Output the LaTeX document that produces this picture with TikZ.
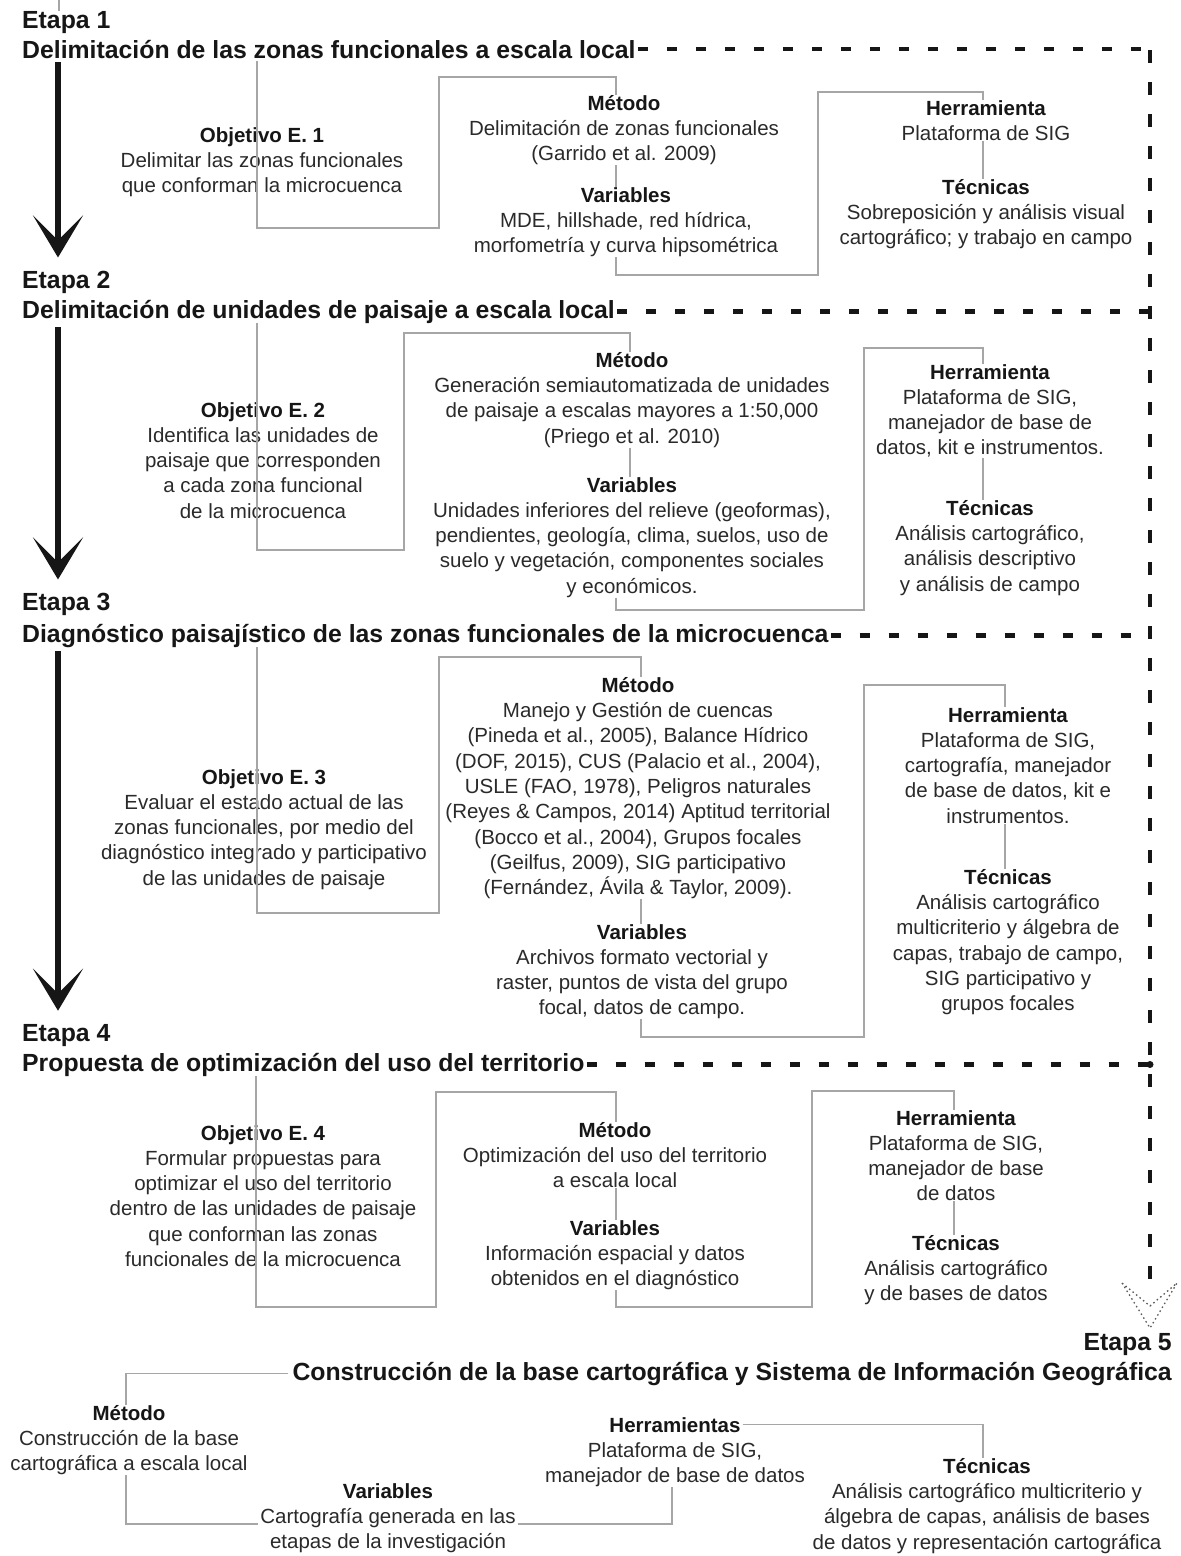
\documentclass[tikz,border=0pt]{standalone}
\usepackage{fontspec}
\setmainfont{Liberation Sans}
\usetikzlibrary{arrows.meta}
\definecolor{txt}{HTML}{2A2A2A}
\definecolor{hdc}{HTML}{161616}
\definecolor{lnc}{HTML}{A6A6A6}
\newcommand{\bodyfont}{\fontsize{20.5pt}{25.3pt}\selectfont}
\newcommand{\titlefont}{\fontsize{24.8pt}{30pt}\selectfont\bfseries}
\newcommand{\blkhead}[1]{{\bfseries\color{hdc}#1}}
\begin{document}
\begin{tikzpicture}[x=1pt,y=-1pt,
  blk/.style={align=center, inner sep=0pt, anchor=north, font=\bodyfont, text=txt},
  etapa/.style={anchor=base west, inner sep=0pt, font=\titlefont, text=hdc},
  titl/.style={anchor=base west, inner sep=0pt, font=\titlefont, text=hdc},
  conn/.style={draw=lnc, line width=1.5pt},
  hdash/.style={draw=hdc, line width=4.5pt, dash pattern=on 10pt off 19pt},
  vdash/.style={draw=hdc, line width=4.5pt, dash pattern=on 13pt off 19pt},
  bigarrow/.style={draw=hdc, line width=6pt, -{Stealth[length=42pt,width=50pt,inset=25pt]}, shorten >=13pt, shorten <=4pt}
]
\fill[white] (0,0) rectangle (1181,1556);
\useasboundingbox (0,0) rectangle (1181,1556);

% helper x positions
\coordinate (X58) at (58,0);
\coordinate (X59) at (59,0);
\coordinate (X126) at (126,0);
\coordinate (X256) at (256,0);
\coordinate (X257) at (257,0);
\coordinate (X616) at (616,0);
\coordinate (X630) at (630,0);
\coordinate (X641) at (641,0);
\coordinate (X672) at (672,0);
\coordinate (X954) at (954,0);
\coordinate (X983) at (983,0);
\coordinate (X1005) at (1005,0);
\coordinate (Y1523) at (0,1524);
\coordinate (vtop) at (1150,50);
\coordinate (vbot) at (1150,1290);
\coordinate (topmark) at (59,0);

% ---------------- Etapa 1
\node[etapa] (et1) at (22,28) {Etapa 1};
\node[titl] (ti1) at (22,58) {Delimitación de las zonas funcionales a escala local};
\node[blk] (obj1) at (262,127) {\blkhead{Objetivo E. 1}\\Delimitar las zonas funcionales\\que conforman la microcuenca};
\node[blk] (met1) at (624,95) {\blkhead{Método}\\Delimitación de zonas funcionales\\(Garrido et al. 2009)};
\node[blk] (var1) at (626,187) {\blkhead{Variables}\\MDE, hillshade, red hídrica,\\morfometría y curva hipsométrica};
\node[blk] (her1) at (986,100) {\blkhead{Herramienta}\\Plataforma de SIG};
\node[blk] (tec1) at (986,179) {\blkhead{Técnicas}\\Sobreposición y análisis visual\\cartográfico; y trabajo en campo};

\draw[conn] (topmark) -- (et1.north -| X59);
\draw[conn, shorten <=3pt] (ti1.south -| X257) |- (439,228) |- (616,77) -- (met1.north -| X616);
\draw[conn] (met1.south -| X616) -- (var1.north -| X616);
\draw[conn] (var1.south -| X616) |- (818,275) |- (983,92) -- (her1.north -| X983);
\draw[conn] (her1.south -| X983) -- (tec1.north -| X983);

% ---------------- Etapa 2
\node[etapa] (et2) at (22,288) {Etapa 2};
\node[titl] (ti2) at (22,318) {Delimitación de unidades de paisaje a escala local};
\node[blk] (obj2) at (263,402) {\blkhead{Objetivo E. 2}\\Identifica las unidades de\\paisaje que corresponden\\a cada zona funcional\\de la microcuenca};
\node[blk] (met2) at (632,352) {\blkhead{Método}\\Generación semiautomatizada de unidades\\de paisaje a escalas mayores a 1:50,000\\(Priego et al. 2010)};
\node[blk] (var2) at (632,477) {\blkhead{Variables}\\Unidades inferiores del relieve (geoformas),\\pendientes, geología, clima, suelos, uso de\\suelo y vegetación, componentes sociales\\y económicos.};
\node[blk] (her2) at (990,364) {\blkhead{Herramienta}\\Plataforma de SIG,\\manejador de base de\\datos, kit e instrumentos.};
\node[blk] (tec2) at (990,500) {\blkhead{Técnicas}\\Análisis cartográfico,\\análisis descriptivo\\y análisis de campo};

\draw[conn] (ti2.south -| X257) |- (404,550) |- (630,333) -- (met2.north -| X630);
\draw[conn] (met2.south -| X630) -- (var2.north -| X630);
\draw[conn] (var2.south -| X616) |- (864,610) |- (983,348) -- (her2.north -| X983);
\draw[conn] (her2.south -| X983) -- (tec2.north -| X983);

% ---------------- Etapa 3
\node[etapa] (et3) at (22,610) {Etapa 3};
\node[titl] (ti3) at (22,642) {Diagnóstico paisajístico de las zonas funcionales de la microcuenca};
\node[blk] (obj3) at (264,769) {\blkhead{Objetivo E. 3}\\Evaluar el estado actual de las\\zonas funcionales, por medio del\\diagnóstico integrado y participativo\\de las unidades de paisaje};
\node[blk] (met3) at (638,677) {\blkhead{Método}\\Manejo y Gestión de cuencas\\(Pineda et al., 2005), Balance Hídrico\\(DOF, 2015), CUS (Palacio et al., 2004),\\USLE (FAO, 1978), Peligros naturales\\(Reyes \& Campos, 2014) Aptitud territorial\\(Bocco et al., 2004), Grupos focales\\(Geilfus, 2009), SIG participativo\\(Fernández, Ávila \& Taylor, 2009).};
\node[blk] (var3) at (642,924) {\blkhead{Variables}\\Archivos formato vectorial y\\raster, puntos de vista del grupo\\focal, datos de campo.};
\node[blk] (her3) at (1008,707) {\blkhead{Herramienta}\\Plataforma de SIG,\\cartografía, manejador\\de base de datos, kit e\\instrumentos.};
\node[blk] (tec3) at (1008,869) {\blkhead{Técnicas}\\Análisis cartográfico\\multicriterio y álgebra de\\capas, trabajo de campo,\\SIG participativo y\\grupos focales};

\draw[conn] (ti3.south -| X257) |- (439,913) |- (641,657) -- (met3.north -| X641);
\draw[conn] (met3.south -| X641) -- (var3.north -| X641);
\draw[conn] (var3.south -| X641) |- (864,1037) |- (1005,685) -- (her3.north -| X1005);
\draw[conn] (her3.south -| X1005) -- (tec3.north -| X1005);

% ---------------- Etapa 4
\node[etapa] (et4) at (22,1041) {Etapa 4};
\node[titl] (ti4) at (22,1071) {Propuesta de optimización del uso del territorio};
\node[blk] (obj4) at (263,1125) {\blkhead{Objetivo E. 4}\\Formular propuestas para\\optimizar el uso del territorio\\dentro de las unidades de paisaje\\que conforman las zonas\\funcionales de la microcuenca};
\node[blk] (met4) at (615,1122) {\blkhead{Método}\\Optimización del uso del territorio\\a escala local};
\node[blk] (var4) at (615,1220) {\blkhead{Variables}\\Información espacial y datos\\obtenidos en el diagnóstico};
\node[blk] (her4) at (956,1110) {\blkhead{Herramienta}\\Plataforma de SIG,\\manejador de base\\de datos};
\node[blk] (tec4) at (956,1235) {\blkhead{Técnicas}\\Análisis cartográfico\\y de bases de datos};

\draw[conn] (ti4.south -| X256) |- (436,1307) |- (616,1092) -- (met4.north -| X616);
\draw[conn] (met4.south -| X616) -- (var4.north -| X616);
\draw[conn] (var4.south -| X616) |- (812,1307) |- (954,1091) -- (her4.north -| X954);
\draw[conn] (her4.south -| X954) -- (tec4.north -| X954);

% ---------------- Etapa 5
\node[etapa, anchor=base east] (et5) at (1172,1350) {Etapa 5};
\node[titl, anchor=base east] (ti5) at (1172,1380) {Construcción de la base cartográfica y Sistema de Información Geográfica};
\node[blk] (met5) at (129,1405) {\blkhead{Método}\\Construcción de la base\\cartográfica a escala local};
\node[blk] (var5) at (388,1483) {\blkhead{Variables}\\Cartografía generada en las\\etapas de la investigación};
\node[blk] (her5h) at (675,1417) {\blkhead{Herramientas}};
\node[blk] (her5) at (675,1442) {Plataforma de SIG,\\manejador de base de datos};
\node[blk] (tec5) at (987,1458) {\blkhead{Técnicas}\\Análisis cartográfico multicriterio y\\álgebra de capas, análisis de bases\\de datos y representación cartográfica};

\draw[conn] ([xshift=-4pt]ti5.west) -| (met5.north -| X126);
\draw[conn] (met5.south -| X126) |- ([xshift=-2pt]var5.west |- Y1523);
\draw[conn] ([xshift=2pt]var5.east |- Y1523) -| (her5.south -| X672);
\draw[conn] ([xshift=2pt]her5h.east) -| (tec5.north -| X983);

% ---------------- big arrows
\draw[bigarrow] (ti1.south -| X58) -- (et2.north -| X58);
\draw[bigarrow] (ti2.south -| X58) -- (et3.north -| X58);
\draw[bigarrow] (ti3.south -| X58) -- (et4.north -| X58);

% ---------------- dashed frame
\draw[hdash] ([xshift=2pt]ti1.east) -- (ti1.east -| vtop);
\draw[hdash] ([xshift=2pt]ti2.east) -- (ti2.east -| vtop);
\draw[hdash] ([xshift=2pt]ti3.east) -- (ti3.east -| vtop);
\draw[hdash] ([xshift=2pt]ti4.east) -- (ti4.east -| vtop);
\draw[vdash] (vtop) -- (vbot);
\fill[hdc] (ti4.east -| vtop) circle (3.5pt);
% dotted outline arrow head
\draw[draw=black!65, line width=1.3pt, dash pattern=on 1.5pt off 3pt]
  (1122,1283) -- (1150,1328) -- (1177,1283) -- (1150,1306) -- cycle;
\end{tikzpicture}
\end{document}
